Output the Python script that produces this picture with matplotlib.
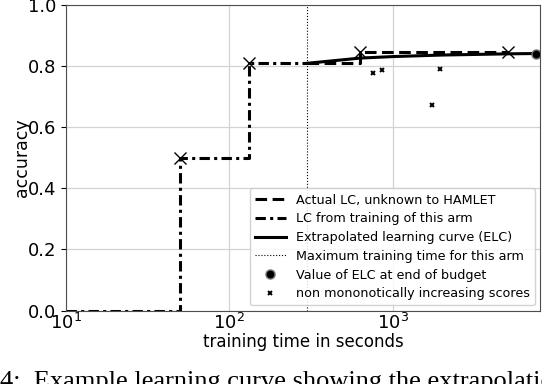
import matplotlib
matplotlib.use("Agg")
import matplotlib.pyplot as plt
import numpy as np

# LC from training of this arm (step function)
lc_train_t = [10, 50, 132, 300]
lc_train_acc = [0.0, 0.5, 0.81, 0.81]
train_marker_t = [50, 132]
train_marker_acc = [0.5, 0.81]

# Actual LC (unknown)
actual_t = [300, 630, 5100]
actual_acc = [0.81, 0.847, 0.847]
actual_marker_t = [630, 5100]
actual_marker_acc = [0.847, 0.847]

# Extrapolated learning curve
elc_t = [300, 630, 1000, 2000, 5100, 7500]
elc_acc = [0.81, 0.827, 0.832, 0.837, 0.841, 0.842]

max_train_time = 300
end_budget_t = 7500
end_budget_acc = 0.842

# non monotonically increasing scores
nm_t = [760, 858, 1746, 1958]
nm_acc = [0.778, 0.788, 0.672, 0.790]

fig = plt.figure(figsize=(5.42, 3.84), dpi=100)
ax = fig.add_axes([66/542, 1 - 310.5/384, (540-66)/542, (310.5-5.3)/384])

ax.set_xscale("log")
ax.set_xlim(10, 7960)
ax.set_ylim(0, 1)

ax.grid(True, which="major", color="#d3d3d3", lw=0.9)
ax.set_axisbelow(True)

ax.plot(actual_t, actual_acc, drawstyle="steps-post", color="black", lw=2.2,
        dashes=(3.8, 1.8), label="Actual LC, unknown to HAMLET")
ax.plot(lc_train_t, lc_train_acc, drawstyle="steps-post", color="black", lw=2.2,
        dashes=(3.4, 1.4, 1.0, 1.4), label="LC from training of this arm")
ax.plot(elc_t, elc_acc, color="black", lw=2.2, label="Extrapolated learning curve (ELC)")
ax.axvline(max_train_time, color="black", lw=0.8, ls=":", label="Maximum training time for this arm")
ax.plot([end_budget_t], [end_budget_acc], ls="none", marker="o", ms=6.5, mfc="black",
        mec="0.45", mew=1.0, label="Value of ELC at end of budget")
ax.plot(nm_t, nm_acc, ls="none", marker="x", ms=3.5, mew=1.4, color="black",
        label="non mononotically increasing scores")

ax.plot(train_marker_t, train_marker_acc, ls="none", marker="x", ms=8, mew=1.0, color="black")
ax.plot(actual_marker_t, actual_marker_acc, ls="none", marker="x", ms=8, mew=1.0, color="black")

ax.set_yticks([0.0, 0.2, 0.4, 0.6, 0.8, 1.0])
ax.minorticks_off()
ax.tick_params(labelsize=13)
ax.tick_params(axis="x", length=0, pad=2)
for s in ax.spines.values():
    s.set_color("0.3")

ax.set_xlabel("training time in seconds", fontsize=12, labelpad=0)
ax.set_ylabel("accuracy", fontsize=12.5, labelpad=-2)

leg = ax.legend(loc="lower right", fontsize=9.2, framealpha=0.85,
                borderaxespad=0.4, handlelength=2.4, labelspacing=0.45)

fig.text(0.0, -4/384, "4:  Example learning curve showing the extrapolation and the",
         fontsize=19, family="Liberation Serif", ha="left", va="baseline")

fig.savefig("out.png", dpi=100)
